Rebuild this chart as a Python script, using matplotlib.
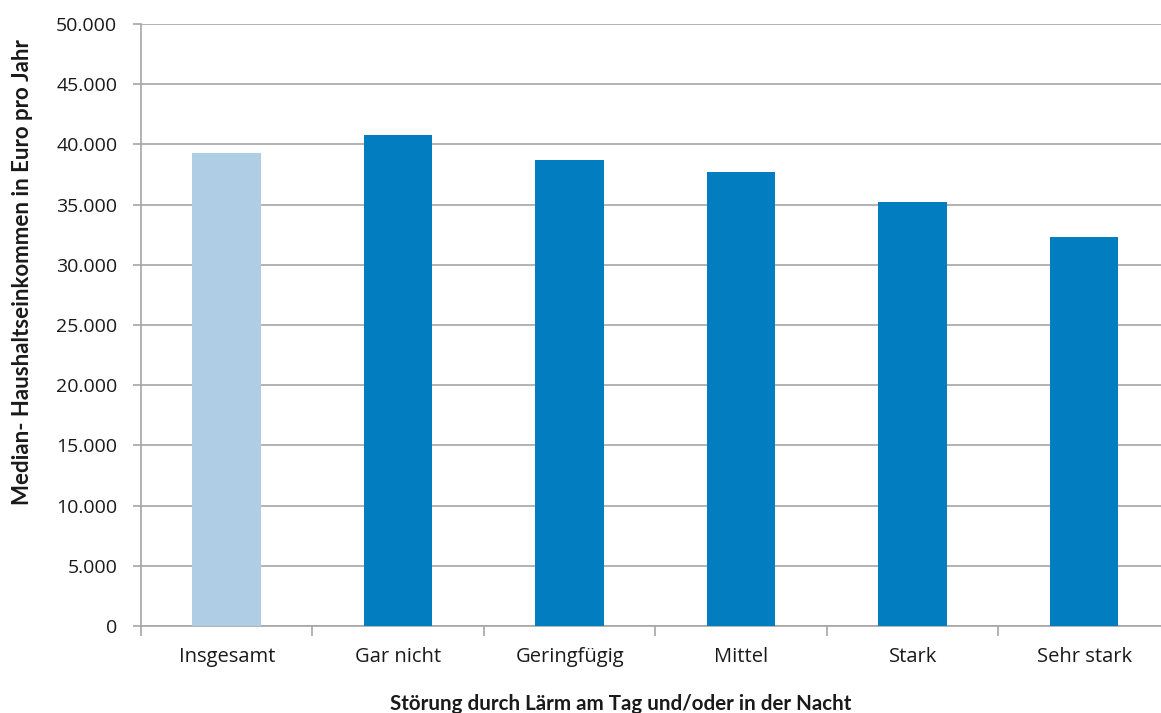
import matplotlib.pyplot as plt
from matplotlib.ticker import FuncFormatter, FixedLocator
import numpy as np

plt.rcParams['font.family'] = ['Open Sans', 'DejaVu Sans']

categories = ['Insgesamt', 'Gar nicht', 'Geringfügig', 'Mittel', 'Stark', 'Sehr stark']
income = [39300, 40750, 38730, 37730, 35190, 32280]
colors = ['#b0cde6', '#027dc0', '#027dc0', '#027dc0', '#027dc0', '#027dc0']

fig = plt.figure(figsize=(11.61, 7.13), dpi=100)
ax = fig.add_axes([0.1214, 0.122, 0.8863, 0.8443])

x = np.arange(len(categories))
ax.bar(x, income, width=0.40, color=colors, zorder=3)

ax.set_xlim(-0.5, len(categories) - 0.5)
ax.set_ylim(0, 50000)
ax.set_yticks(np.arange(0, 50001, 5000))
ax.yaxis.set_major_formatter(FuncFormatter(lambda v, p: f'{int(v):,}'.replace(',', '.')))
ax.grid(axis='y', color='#a6a6a6', linewidth=1.2, zorder=0)

ax.set_xticks(x)
ax.set_xticklabels(categories)
ax.xaxis.set_minor_locator(FixedLocator(np.arange(-0.5, len(categories), 1.0)))
ax.tick_params(axis='x', which='major', length=0, pad=15, labelsize=14.5, labelcolor='#1a1a1a')
ax.tick_params(axis='x', which='minor', length=7, color='#a6a6a6', width=1.2)
ax.tick_params(axis='y', length=6, color='#a6a6a6', width=1.2, pad=11, labelsize=14, labelcolor='#1a1a1a')

for s in ['top', 'right']:
    ax.spines[s].set_visible(False)
for s in ['left', 'bottom']:
    ax.spines[s].set_color('#a6a6a6')
    ax.spines[s].set_linewidth(1.2)

fig.text(0.019, 0.619, 'Median- Haushaltseinkommen in Euro pro Jahr', rotation=90,
         ha='center', va='center', fontsize=16, fontweight='bold', color='#1a1a1a',
         family=['Lato', 'DejaVu Sans'])
fig.text(0.535, 0.012, 'Störung durch Lärm am Tag und/oder in der Nacht',
         ha='center', va='center', fontsize=14.8, fontweight='bold', color='#1a1a1a',
         family=['Lato', 'DejaVu Sans'])

fig.savefig('out.png', dpi=100)
